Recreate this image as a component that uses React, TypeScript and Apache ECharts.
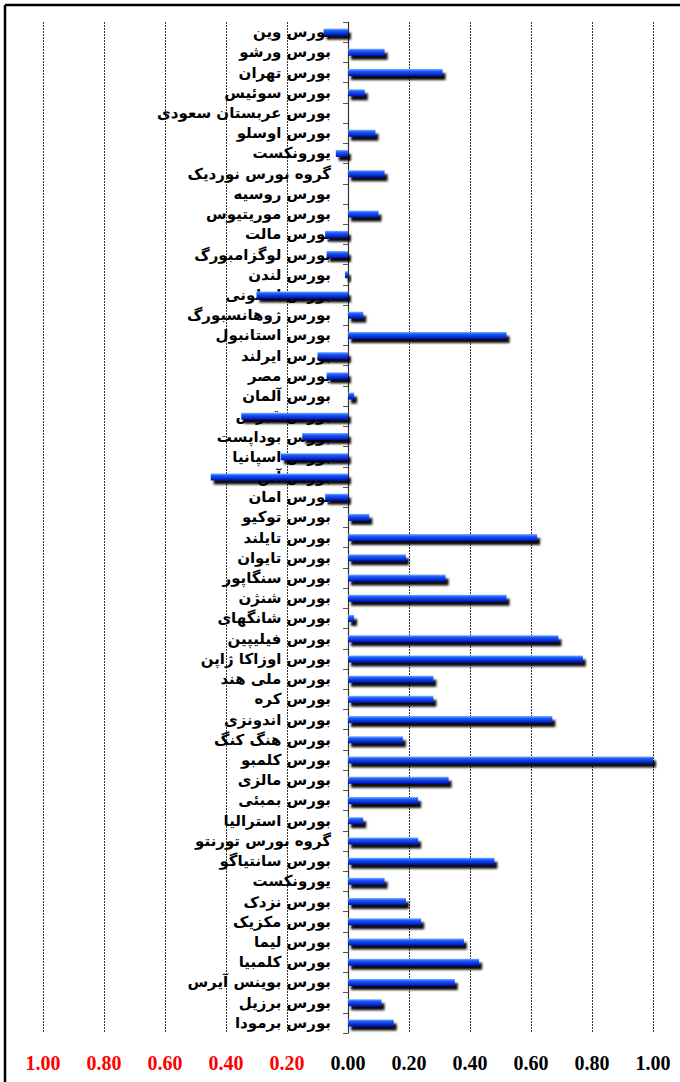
import React, { useEffect, useRef } from "react";
import * as echarts from "echarts";

const categories = [
  "بورس وین",
  "بورس ورشو",
  "بورس تهران",
  "بورس سوئیس",
  "بورس عربستان سعودی",
  "بورس اوسلو",
  "یورونکست",
  "گروه بورس نوردیک",
  "بورس روسیه",
  "بورس موریتیوس",
  "بورس مالت",
  "بورس لوگزامبورگ",
  "بورس لندن",
  "بورس اسلونی",
  "بورس ژوهانسبورگ",
  "بورس استانبول",
  "بورس ایرلند",
  "بورس مصر",
  "بورس آلمان",
  "بورس قبرس",
  "بورس بوداپست",
  "بورس اسپانیا",
  "بورس آتن",
  "بورس امان",
  "بورس توکیو",
  "بورس تایلند",
  "بورس تایوان",
  "بورس سنگاپور",
  "بورس شنژن",
  "بورس شانگهای",
  "بورس فیلیپین",
  "بورس اوزاکا ژاپن",
  "بورس ملی هند",
  "بورس کره",
  "بورس اندونزی",
  "بورس هنگ کنگ",
  "بورس کلمبو",
  "بورس مالزی",
  "بورس بمبئی",
  "بورس استرالیا",
  "گروه بورس تورنتو",
  "بورس سانتیاگو",
  "یورونکست",
  "بورس نزدک",
  "بورس مکزیک",
  "بورس لیما",
  "بورس کلمبیا",
  "بورس بوینس آیرس",
  "بورس برزیل",
  "بورس برمودا",
];

const values = [
  -0.08, 0.12, 0.31, 0.055, 0, 0.09, -0.04, 0.12, 0, 0.1,
  -0.075, -0.07, -0.01, -0.3, 0.05, 0.52, -0.1, -0.07, 0.02, -0.35,
  -0.15, -0.22, -0.45, -0.075, 0.07, 0.62, 0.19, 0.32, 0.52, 0.02,
  0.69, 0.77, 0.28, 0.28, 0.67, 0.18, 1.0, 0.33, 0.23, 0.05,
  0.23, 0.48, 0.12, 0.19, 0.24, 0.38, 0.43, 0.35, 0.11, 0.15,
];

const axisMin = -1;
const axisMax = 1;
const axisStep = 0.2;

const GRID_LEFT = 43;
const GRID_RIGHT = 27;
const WIDTH = 680;

export default function App() {
  const ref = useRef<HTMLDivElement>(null);

  useEffect(() => {
    if (!ref.current) return;
    const chart = echarts.init(ref.current, undefined, { renderer: "svg" });
    const plotW = WIDTH - GRID_LEFT - GRID_RIGHT;
    const zeroOffset = -plotW * ((0 - axisMin) / (axisMax - axisMin));
    chart.setOption({
      animation: false,
      backgroundColor: "#ffffff",
      grid: {
        left: GRID_LEFT,
        right: GRID_RIGHT,
        top: 22,
        bottom: 49,
        containLabel: false,
        outerBoundsMode: "none",
      },
      xAxis: {
        type: "value",
        min: axisMin,
        max: axisMax,
        interval: axisStep,
        axisLine: { show: false },
        axisTick: { show: false },
        splitLine: { show: true, lineStyle: { color: "#333", type: [2, 1], width: 1 } },
        axisLabel: {
          margin: 20,
          fontFamily: "Liberation Serif",
          fontWeight: "bold",
          fontSize: 20,
          formatter: (v: number) => Math.abs(v).toFixed(2),
          color: (v: any) => (Number(v) < -1e-9 ? "#ff0000" : "#000000"),
        },
      },
      yAxis: {
        type: "category",
        data: categories,
        inverse: true,
        position: "left",
        offset: zeroOffset,
        axisLine: { show: true, onZero: false, lineStyle: { color: "#333", width: 1.2 } },
        axisTick: { show: true, length: 5, lineStyle: { color: "#555" } },
        splitLine: { show: false },
        axisLabel: {
          interval: 0,
          margin: 17,
          fontFamily: "DejaVu Sans",
          fontSize: 15,
          fontWeight: "bold",
          color: "#000",
          padding: [8, 0, 0, 0],
        },
      },
      series: [
        {
          type: "bar",
          data: values,
          barWidth: 7,
          itemStyle: {
            color: new echarts.graphic.LinearGradient(0, 0, 0, 1, [
              { offset: 0, color: "#7fb2ff" },
              { offset: 0.3, color: "#1a5cff" },
              { offset: 1, color: "#0010b0" },
            ]),
            shadowColor: "rgba(0,0,0,0.95)",
            shadowBlur: 2,
            shadowOffsetX: 3,
            shadowOffsetY: 4,
          },
        },
      ],
      graphic: [
        {
          type: "line",
          shape: { x1: 5, y1: 5, x2: 680, y2: 5 },
          style: { stroke: "#000", lineWidth: 2.5 },
          silent: true,
        },
        {
          type: "line",
          shape: { x1: 5, y1: 5, x2: 5, y2: 1082 },
          style: { stroke: "#000", lineWidth: 2.5 },
          silent: true,
        },
      ],
    });
    return () => chart.dispose();
  }, []);

  return (
    <div
      ref={ref}
      style={{ position: "fixed", left: 0, top: 0, width: 680, height: 1082, background: "#fff" }}
    />
  );
}
